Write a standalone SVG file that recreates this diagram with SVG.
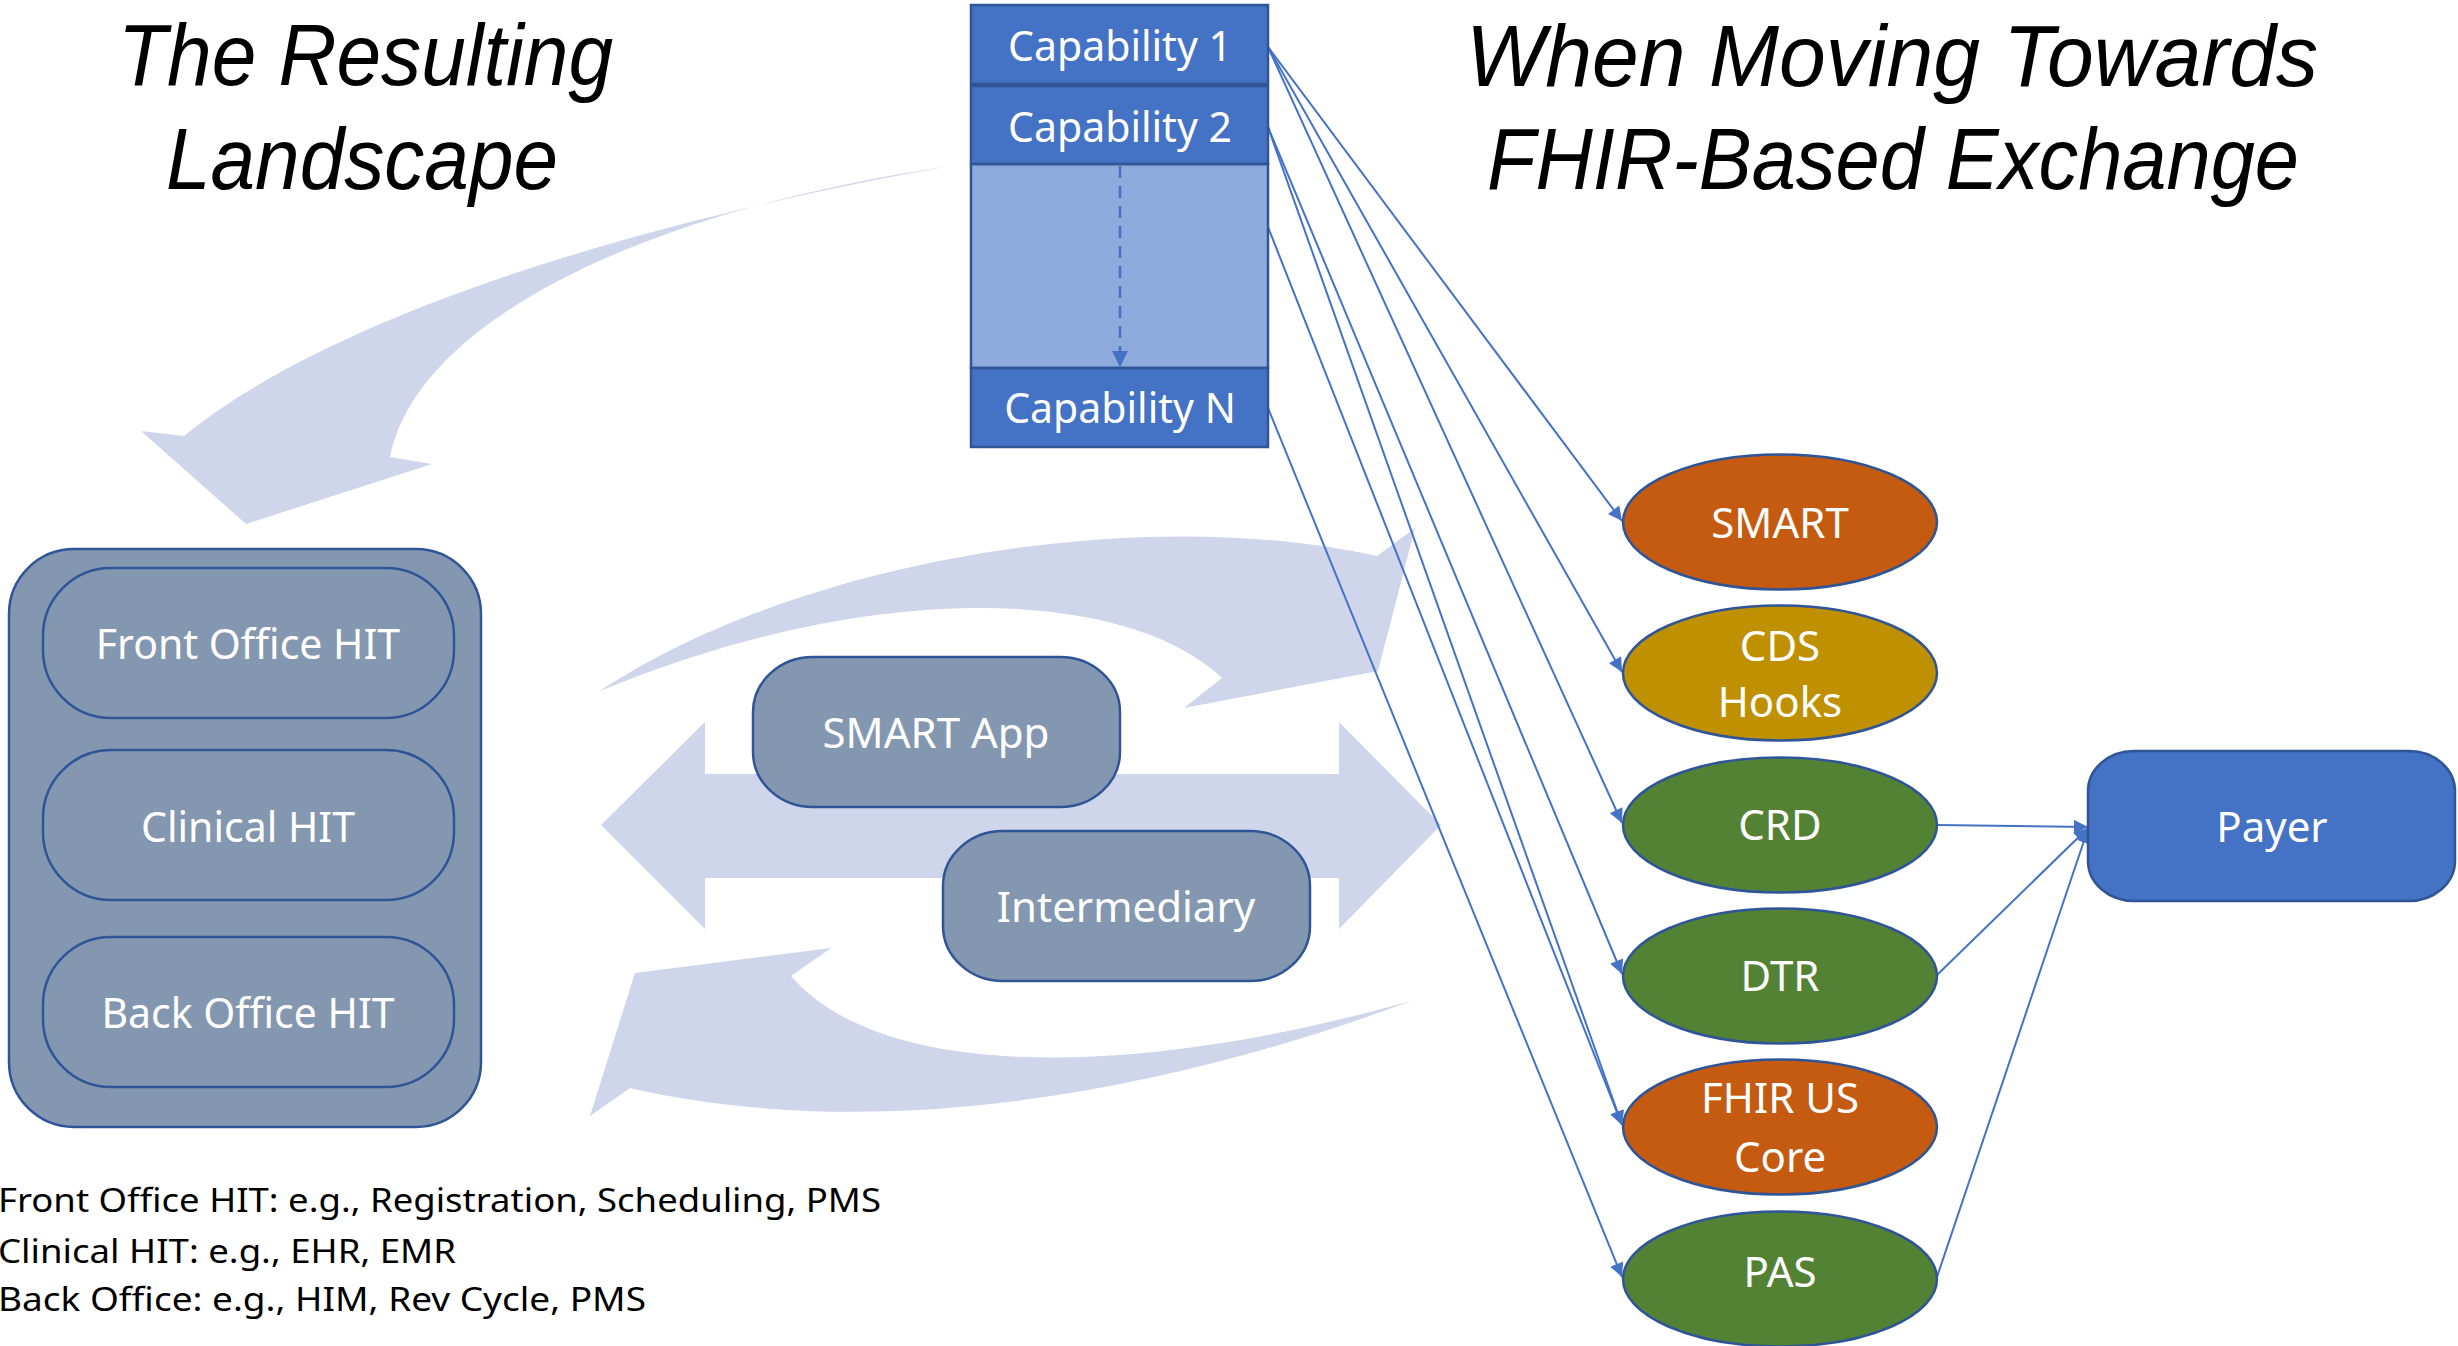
<svg xmlns="http://www.w3.org/2000/svg" width="2458" height="1346" viewBox="0 0 2458 1346">
<style>
.bg{fill:#CFD5EA;stroke:none}
.gray{fill:#8497B0;stroke:#2F5597;stroke-width:2.5}
.cap{fill:#4472C4;stroke:#2F5597;stroke-width:2.5}
.lt{fill:#8FAADC;stroke:#2F5597;stroke-width:2.5}
.ell{stroke:#2F5597;stroke-width:2.5}
.conn{stroke:#4472C4;stroke-width:2;fill:none}
.wt{fill:#FFFFFF;font-family:"Noto Sans","Open Sans","DejaVu Sans",sans-serif;text-anchor:middle}
.title{fill:#000000;font-family:"Liberation Sans",Arial,sans-serif;font-style:italic;font-size:88px}
.note{fill:#000000;font-family:"Noto Sans","Open Sans","DejaVu Sans",sans-serif;font-size:33px}
</style>
<defs>
<marker id="ah" viewBox="0 0 10 10" refX="10" refY="5" markerWidth="16" markerHeight="14" markerUnits="userSpaceOnUse" orient="auto">
<path d="M0,0 L10,5 L0,10 z" fill="#4472C4"/>
</marker>
</defs>
<rect width="2458" height="1346" fill="#FFFFFF"/>

<g id="titles">
<text class="title" x="118" y="85" textLength="495" lengthAdjust="spacingAndGlyphs">The Resulting</text>
<text class="title" x="166" y="189" textLength="392" lengthAdjust="spacingAndGlyphs">Landscape</text>
<text class="title" x="1466" y="86" textLength="852" lengthAdjust="spacingAndGlyphs">When Moving Towards</text>
<text class="title" x="1487" y="189" textLength="812" lengthAdjust="spacingAndGlyphs">FHIR-Based Exchange</text>
</g>

<g id="flow-arrows">
<path class="bg" d="M950,166 C700,210 350,300 184,436 L141,431 L246,524 L432,464 L390,457 C415,330 620,215 950,166 Z"/>
<path class="bg" d="M600,691 C780,570 1120,500 1377,556 L1415,528 L1378,671 L1184,708 L1222,678 C1130,590 880,575 600,691 Z"/>
<path class="bg" d="M601,825 L705,722 L705,774 L1339,774 L1339,722 L1441,825 L1339,929 L1339,878 L705,878 L705,929 Z"/>
<path class="bg" d="M1411,1001 C1200,1080 900,1150 630,1088 L590,1116 L635,973 L831,948 L791,976 C880,1080 1130,1080 1411,1001 Z"/>
</g>

<g id="connectors">
<line class="conn" x1="1268" y1="47" x2="1622" y2="521" marker-end="url(#ah)"/>
<line class="conn" x1="1268" y1="47" x2="1622" y2="672" marker-end="url(#ah)"/>
<line class="conn" x1="1268" y1="47" x2="1622" y2="823" marker-end="url(#ah)"/>
<line class="conn" x1="1268" y1="127" x2="1622" y2="974" marker-end="url(#ah)"/>
<line class="conn" x1="1268" y1="127" x2="1622" y2="1125" marker-end="url(#ah)"/>
<line class="conn" x1="1268" y1="227" x2="1622" y2="1125" marker-end="url(#ah)"/>
<line class="conn" x1="1268" y1="408" x2="1622" y2="1277" marker-end="url(#ah)"/>
<line class="conn" x1="1937" y1="825" x2="2088" y2="827" marker-end="url(#ah)"/>
<line class="conn" x1="1937" y1="975" x2="2088" y2="828" marker-end="url(#ah)"/>
<line class="conn" x1="1937" y1="1277" x2="2088" y2="829" marker-end="url(#ah)"/>
</g>

<g id="hit-container">
<rect class="gray" x="9" y="549" width="472" height="578" rx="65" ry="65"/>
</g>
<g id="front-office-hit">
<rect class="gray" x="43" y="568" width="411" height="150" rx="68" ry="68"/>
<text class="wt" x="248" y="659" font-size="41">Front Office HIT</text>
</g>
<g id="clinical-hit">
<rect class="gray" x="43" y="750" width="411" height="150" rx="68" ry="68"/>
<text class="wt" x="248" y="842" font-size="41">Clinical HIT</text>
</g>
<g id="back-office-hit">
<rect class="gray" x="43" y="937" width="411" height="150" rx="68" ry="68"/>
<text class="wt" x="248" y="1028" font-size="41">Back Office HIT</text>
</g>

<g id="smart-app">
<rect class="gray" x="753" y="657" width="367" height="150" rx="60" ry="55"/>
<text class="wt" x="936" y="748" font-size="42">SMART App</text>
</g>
<g id="intermediary">
<rect class="gray" x="943" y="831" width="367" height="150" rx="60" ry="55"/>
<text class="wt" x="1126" y="922" font-size="42">Intermediary</text>
</g>

<g id="capabilities">
<rect class="lt" x="971" y="164" width="297" height="204"/>
<line x1="1120" y1="166" x2="1120" y2="352" stroke="#4472C4" stroke-width="2.5" stroke-dasharray="12,8"/>
<path d="M1112,351 L1128,351 L1120,367 z" fill="#4472C4"/>
<g id="capability-1">
<rect class="cap" x="971" y="5" width="297" height="79"/>
<text class="wt" x="1120" y="61" font-size="41">Capability 1</text>
</g>
<g id="capability-2">
<rect class="cap" x="971" y="86" width="297" height="78"/>
<text class="wt" x="1120" y="142" font-size="41">Capability 2</text>
</g>
<g id="capability-n">
<rect class="cap" x="971" y="368" width="297" height="79"/>
<text class="wt" x="1120" y="423" font-size="41">Capability N</text>
</g>
</g>

<g id="smart">
<ellipse class="ell" cx="1780" cy="522" rx="157" ry="67.5" fill="#C55A11"/>
<text class="wt" x="1780" y="538" font-size="42">SMART</text>
</g>
<g id="cds-hooks">
<ellipse class="ell" cx="1780" cy="673" rx="157" ry="67.5" fill="#BF9000"/>
<text class="wt" x="1780" y="661" font-size="42">CDS</text>
<text class="wt" x="1780" y="717" font-size="42">Hooks</text>
</g>
<g id="crd">
<ellipse class="ell" cx="1780" cy="825" rx="157" ry="67.5" fill="#548235"/>
<text class="wt" x="1780" y="840" font-size="42">CRD</text>
</g>
<g id="dtr">
<ellipse class="ell" cx="1780" cy="976" rx="157" ry="67.5" fill="#548235"/>
<text class="wt" x="1780" y="991" font-size="42">DTR</text>
</g>
<g id="fhir-us-core">
<ellipse class="ell" cx="1780" cy="1127" rx="157" ry="67.5" fill="#C55A11"/>
<text class="wt" x="1780" y="1113" font-size="42">FHIR US</text>
<text class="wt" x="1780" y="1172" font-size="42">Core</text>
</g>
<g id="pas">
<ellipse class="ell" cx="1780" cy="1279" rx="157" ry="67.5" fill="#548235"/>
<text class="wt" x="1780" y="1287" font-size="42">PAS</text>
</g>
<g id="payer">
<rect class="cap" x="2088" y="751" width="367" height="150" rx="46" ry="40"/>
<text class="wt" x="2272" y="842" font-size="42">Payer</text>
</g>

<g id="notes">
<text class="note" x="-2" y="1212" textLength="883" lengthAdjust="spacingAndGlyphs">Front Office HIT: e.g., Registration, Scheduling, PMS</text>
<text class="note" x="-2" y="1263" textLength="458" lengthAdjust="spacingAndGlyphs">Clinical HIT: e.g., EHR, EMR</text>
<text class="note" x="-2" y="1311" textLength="648" lengthAdjust="spacingAndGlyphs">Back Office: e.g., HIM, Rev Cycle, PMS</text>
</g>
</svg>
